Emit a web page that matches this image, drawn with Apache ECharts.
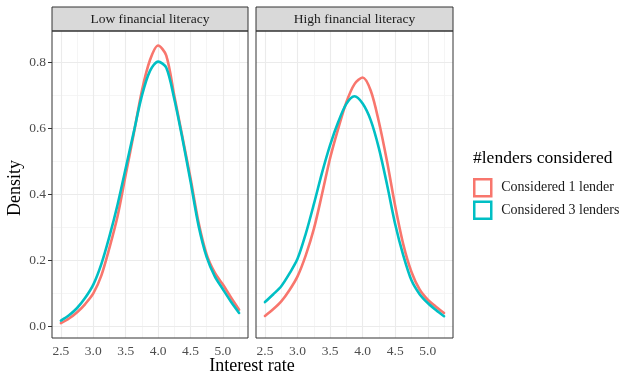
<!DOCTYPE html>
<html>
<head>
<meta charset="utf-8">
<script src="https://cdn.jsdelivr.net/npm/echarts@6/dist/echarts.min.js"></script>
<style>html,body{margin:0;padding:0;background:#fff;}#chart{width:624px;height:373px;}</style>
</head>
<body>
<div id="chart"></div>
<script>
// ---- data ----
var panels = ['Low financial literacy', 'High financial literacy'];
var seriesNames = ['Considered 1 lender', 'Considered 3 lenders'];
var rates = [2.5, 2.625, 2.75, 2.875, 3.0, 3.125, 3.25, 3.375, 3.5, 3.625, 3.75, 3.875, 4.0, 4.125, 4.25, 4.375, 4.5, 4.625, 4.75, 4.875, 5.0, 5.125, 5.25];
var lowOne   = [0.010, 0.024, 0.043, 0.068, 0.100, 0.155, 0.239, 0.335, 0.460, 0.585, 0.715, 0.808, 0.852, 0.822, 0.700, 0.575, 0.450, 0.315, 0.218, 0.163, 0.127, 0.088, 0.051];
var lowThree = [0.018, 0.034, 0.056, 0.087, 0.127, 0.190, 0.274, 0.370, 0.480, 0.590, 0.700, 0.775, 0.803, 0.785, 0.690, 0.570, 0.440, 0.305, 0.210, 0.152, 0.113, 0.075, 0.041];
var highOne   = [0.032, 0.052, 0.076, 0.110, 0.152, 0.215, 0.295, 0.400, 0.510, 0.600, 0.680, 0.735, 0.755, 0.715, 0.620, 0.500, 0.365, 0.248, 0.165, 0.112, 0.081, 0.060, 0.041];
var highThree = [0.074, 0.097, 0.122, 0.160, 0.205, 0.280, 0.370, 0.465, 0.550, 0.620, 0.675, 0.698, 0.676, 0.625, 0.540, 0.430, 0.310, 0.215, 0.140, 0.098, 0.071, 0.050, 0.031];
var xTicks = [2.5, 3.0, 3.5, 4.0, 4.5, 5.0];
var xMinor = [2.75, 3.25, 3.75, 4.25, 4.75, 5.25];
var yTicks = [0.0, 0.2, 0.4, 0.6, 0.8];
var yMinor = [0.1, 0.3, 0.5, 0.7];
var colors = ['#F8766D', '#00BFC4'];

var FONT = '"Liberation Serif", "DejaVu Serif", serif';
var XMIN = 2.3625, XMAX = 5.3875, YMIN = -0.035, YMAX = 0.896;
var grids = [
  {left: 52, top: 31, width: 196, height: 307},
  {left: 256, top: 31, width: 197, height: 307}
];

function pairs(xs, ys) { return xs.map(function (x, i) { return [x, ys[i]]; }); }

var xAxes = [], yAxes = [], series = [];
grids.forEach(function (g, i) {
  xAxes.push({
    type: 'value', gridIndex: i, min: XMIN, max: XMAX,
    axisLine: {show: false},
    splitLine: {show: false},
    axisTick: {show: true, customValues: xTicks, length: 4, lineStyle: {color: '#333', width: 1}},
    axisLabel: {show: true, customValues: xTicks, margin: 6, color: '#4d4d4d', fontFamily: FONT, fontSize: 13.5,
      formatter: function (v) { return v.toFixed(1); }}
  });
  yAxes.push({
    type: 'value', gridIndex: i, min: YMIN, max: YMAX,
    axisLine: {show: false},
    splitLine: {show: false},
    axisTick: {show: i === 0, customValues: yTicks, length: 4, lineStyle: {color: '#333', width: 1}},
    axisLabel: {show: i === 0, customValues: yTicks, margin: 6, color: '#4d4d4d', fontFamily: FONT, fontSize: 13.5,
      formatter: function (v) { return v.toFixed(1); }}
  });
  var minor = [], major = [];
  xMinor.forEach(function (v) { minor.push({coords: [[v, YMIN], [v, YMAX]]}); });
  yMinor.forEach(function (v) { minor.push({coords: [[XMIN, v], [XMAX, v]]}); });
  xTicks.forEach(function (v) { major.push({coords: [[v, YMIN], [v, YMAX]]}); });
  yTicks.forEach(function (v) { major.push({coords: [[XMIN, v], [XMAX, v]]}); });
  series.push({
    type: 'lines', coordinateSystem: 'cartesian2d', xAxisIndex: i, yAxisIndex: i, z: 1, silent: true,
    polyline: false, symbol: ['none', 'none'], lineStyle: {color: '#F2F2F2', width: 0.8, opacity: 1, type: 'solid', curveness: 0},
    data: minor
  });
  series.push({
    type: 'lines', coordinateSystem: 'cartesian2d', xAxisIndex: i, yAxisIndex: i, z: 1, silent: true,
    polyline: false, symbol: ['none', 'none'], lineStyle: {color: '#EBEBEB', width: 1.1, opacity: 1, type: 'solid', curveness: 0},
    data: major
  });
});

var dataSets = [[lowOne, lowThree], [highOne, highThree]];
dataSets.forEach(function (pair, gi) {
  pair.forEach(function (vals, si) {
    series.push({
      name: seriesNames[si], type: 'line', xAxisIndex: gi, yAxisIndex: gi, z: 3,
      data: pairs(rates, vals), smooth: 0.3, showSymbol: false, symbol: 'none',
      lineStyle: {color: colors[si], width: 2.6, join: 'round', cap: 'round'},
      itemStyle: {color: colors[si]}
    });
  });
});

var graphics = [];
grids.forEach(function (g, i) {
  graphics.push({type: 'rect', shape: {x: g.left, y: 7, width: g.width, height: 24}, style: {fill: '#D9D9D9', stroke: '#333', lineWidth: 1}, z: 100});
  graphics.push({type: 'text', x: g.left + g.width / 2, y: 19.5, style: {text: panels[i], align: 'center', verticalAlign: 'middle', font: '13.5px ' + FONT, fill: '#1a1a1a'}, z: 101});
  graphics.push({type: 'rect', shape: {x: g.left, y: g.top, width: g.width, height: g.height}, style: {fill: null, stroke: '#333', lineWidth: 1}, z: 100});
});
graphics.push({type: 'text', x: 252, y: 366, style: {text: 'Interest rate', align: 'center', verticalAlign: 'middle', font: '18px ' + FONT, fill: '#000'}, z: 101});
graphics.push({type: 'text', x: 15, y: 188, rotation: Math.PI / 2, style: {text: 'Density', align: 'center', verticalAlign: 'middle', font: '18px ' + FONT, fill: '#000'}, z: 101});
graphics.push({type: 'text', x: 473, y: 158, style: {text: '#lenders considered', align: 'left', verticalAlign: 'middle', font: '17.5px ' + FONT, fill: '#000'}, z: 101});

var chart = echarts.init(document.getElementById('chart'), null, {renderer: 'canvas'});
chart.setOption({
  animation: false,
  backgroundColor: '#fff',
  grid: grids.map(function (g) { return {left: g.left, top: g.top, width: g.width, height: g.height, containLabel: false}; }),
  xAxis: xAxes,
  yAxis: yAxes,
  legend: {
    orient: 'vertical', left: 473, top: 178, padding: 0, itemGap: 3,
    itemWidth: 17, itemHeight: 17, icon: 'rect',
    textStyle: {fontFamily: FONT, fontSize: 14, color: '#1a1a1a', padding: [0, 0, 0, 5]},
    data: seriesNames.map(function (n, i) {
      return {name: n, icon: 'rect', itemStyle: {color: '#ffffff', borderColor: colors[i], borderWidth: 2.5}};
    })
  },
  series: series,
  graphic: graphics
});
</script>
</body>
</html>
